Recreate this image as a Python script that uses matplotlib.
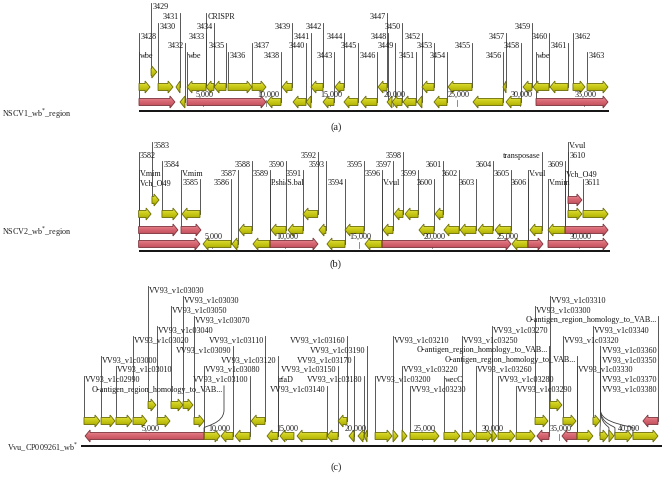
import matplotlib
matplotlib.use('Agg')
import matplotlib.pyplot as plt
import numpy as np
from matplotlib.patches import Polygon, PathPatch
from matplotlib.path import Path
from matplotlib.colors import LinearSegmentedColormap

plt.rcParams['font.family'] = ['Liberation Serif', 'DejaVu Serif']

# ------------------------------------------------------------------ data
# Panel (a) NSCV1 genes
a_start = [950, 0, 1500, 2910, 3780, 5280, 5910, 7010, 8900, 11260, 13540, 15430, 18820, 22280, 24330,
           28660, 30240, 31020, 32360, 34170, 35280,
           0, 3230, 3780, 10080, 12130, 13150, 14490, 16140, 17480, 19530, 19920, 20790, 21890, 23230,
           26300, 28900, 31260]
a_end = [1400, 870, 2680, 3230, 5280, 5900, 6850, 8900, 10000, 12050, 14490, 16140, 19530, 23230, 26220,
         28900, 30940, 32280, 33780, 35120, 36930,
         2830, 3620, 10000, 11180, 13150, 13540, 15350, 17240, 18740, 19920, 20710, 21810, 22280, 24250,
         28660, 30080, 36930]
a_strand = [1, 1, 1, -1, -1, -1, -1, 1, 1, -1, -1, -1, -1, -1, -1, -1, -1, -1, -1, 1, 1,
            1, -1, 1, -1, -1, -1, -1, -1, -1, -1, -1, -1, -1, -1, -1, -1, 1]
a_row = [0] + [1] * 20 + [2] * 17
a_kind = ['Y'] * 21 + ['R', 'Y', 'R'] + ['Y'] * 13 + ['R']

a_lab_text = ['3429', '3431', 'CRISPR', '3430', '3434', '3439', '3442', '3447', '3459', '3450',
              '3428', '3433', '3441', '3444', '3448', '3452', '3457', '3460', '3462',
              '3432', '3435', '3437', '3440', '3445', '3449', '3453', '3455', '3458', '3461',
              'wbe', 'wbe', '3436', '3438', '3443', '3446', '3451', '3454', '3456', 'wbe', '3463']
a_lab_pos = [950, 3230, 5280, 1500, 5900, 12050, 14490, 19530, 30940, 20710,
             0, 5280, 13540, 16140, 19600, 22280, 28900, 32280, 34170,
             3620, 6850, 8900, 13150, 17240, 20160, 23230, 26220, 30080, 33780,
             0, 3780, 7010, 11180, 15350, 18740, 21810, 24250, 28660, 31260, 35280]
a_lab_side = ['R', 'L', 'R', 'R', 'L', 'L', 'L', 'L', 'L', 'L',
              'R', 'L', 'L', 'L', 'L', 'L', 'L', 'L', 'R',
              'L', 'L', 'R', 'L', 'L', 'L', 'L', 'L', 'L', 'L',
              'R', 'R', 'R', 'L', 'L', 'L', 'L', 'L', 'L', 'R', 'R']
a_lab_level = [0, 1, 1, 2, 2, 2, 2, 1, 2, 2,
               3, 3, 3, 3, 3, 3, 3, 3, 3,
               4, 4, 4, 4, 4, 4, 4, 4, 4, 4,
               5, 5, 5, 5, 5, 5, 5, 5, 5, 5, 5]
a_lab_row = [0, 1, 1, 1, 1, 1, 1, 1, 1, 2,
             1, 1, 2, 1, 2, 2, 1, 1, 1,
             2, 1, 1, 2, 2, 2, 1, 1, 2, 1,
             2, 2, 1, 2, 2, 2, 2, 2, 2, 2, 1]

# Panel (b) NSCV2 genes
b_start = [910, 29250,
           0, 1590, 2960, 11200, 17400, 18150, 20190, 29250, 30270,
           0, 2890, 6840, 9020, 10180, 12290, 14060, 16650, 19100, 20800, 21900, 23120, 24280, 26660,
           27890, 29050,
           0, 4390, 6360, 7790, 8950, 12830, 15420, 16580, 25430, 26520, 27890]
b_end = [1390, 30200,
         850, 2680, 4180, 12200, 18010, 19040, 20740, 30200, 31980,
         2680, 4250, 7720, 10040, 11200, 12760, 15350, 17330, 20120, 21830, 22980, 24140, 25370, 27480,
         29050, 31980,
         4180, 6290, 6770, 8950, 12220, 14060, 16580, 25370, 26520, 27550, 31980]
b_strand = [1, 1,
            1, 1, -1, -1, -1, -1, -1, 1, 1,
            1, 1, -1, -1, -1, -1, -1, -1, -1, -1, -1, -1, -1, -1, -1, 1,
            1, -1, -1, -1, 1, -1, -1, 1, -1, 1, 1]
b_row = [0, 0] + [1] * 9 + [2] * 16 + [3] * 11
b_kind = ['Y', 'R'] + ['Y'] * 9 + ['R', 'R'] + ['Y'] * 13 + ['R'] + \
         ['R', 'Y', 'Y', 'Y', 'R', 'Y', 'Y', 'R', 'Y', 'R', 'R']

b_lab_text = ['3583', 'V.vul', '3582', '3592', '3598', 'transposase', '3610',
              '3584', '3588', '3590', '3593', '3595', '3597', '3601', '3604', '3609',
              'V.mim', 'V.mim', '3587', '3589', '3591', '3596', '3599', '3602', '3605', 'V.vul', 'Vch_O49',
              'Vch_O49', '3585', '3586', 'P.shi/S.bal', '3594', 'V.vul', '3600', '3603', '3606', 'V.mim',
              '3611']
b_lab_pos = [910, 29250, 0, 12200, 18010, 27480, 29250,
             1590, 7720, 10040, 12760, 15350, 17330, 20740, 24140, 29050,
             0, 2890, 6770, 8950, 11200, 16580, 19040, 21830, 25370, 26520, 29050,
             0, 4180, 6290, 8950, 14060, 16580, 20120, 22980, 26520, 27890, 30270]
b_lab_side = ['R', 'R', 'R', 'L', 'L', 'L', 'R',
              'R', 'L', 'L', 'L', 'L', 'L', 'L', 'L', 'L',
              'R', 'R', 'L', 'L', 'L', 'L', 'L', 'L', 'L', 'R', 'R',
              'R', 'L', 'L', 'R', 'L', 'R', 'L', 'L', 'L', 'R', 'R']
b_lab_level = [0, 0, 1, 1, 1, 1, 1,
               2, 2, 2, 2, 2, 2, 2, 2, 2,
               3, 3, 3, 3, 3, 3, 3, 3, 3, 3, 3,
               4, 4, 4, 4, 4, 4, 4, 4, 4, 4, 4]
b_lab_row = [0, 0, 1, 1, 1, 2, 1,
             1, 2, 2, 2, 2, 2, 1, 2, 2,
             2, 2, 3, 3, 2, 3, 1, 2, 2, 3, 2,
             3, 1, 3, 3, 3, 3, 2, 2, 3, 3, 1]

# Panel (c) Vvu CP009261 genes
c_start = [4930, 6610, 7490, 34350,
           240, 1490, 2580, 3830, 5590, 8290, 12480, 18840, 33260, 35300, 37500, 41160,
           320, 9030, 10270, 11300, 13640, 14590, 15840, 18030, 19640, 20300, 20740, 21550, 22860, 23520,
           24110, 26590, 27910, 28940, 30110, 30550, 31870, 33400, 35230, 36330, 38020, 38670, 39110, 40430]
c_end = [5510, 7490, 8220, 35230,
         1410, 2510, 3760, 4850, 6540, 9030, 13490, 19490, 34210, 36260, 38020, 42260,
         9030, 10200, 11150, 12390, 14440, 15610, 18030, 18840, 20010, 20740, 20960, 22790, 23230, 23890,
         26230, 27760, 28860, 30110, 30480, 31790, 33260, 34280, 36330, 37500, 38600, 39040, 40360, 42260]
c_strand = [1, 1, 1, 1,
            1, 1, 1, 1, 1, 1, -1, -1, 1, 1, 1, -1,
            -1, 1, -1, -1, -1, -1, -1, -1, -1, -1, -1, 1, 1, 1,
            1, 1, 1, 1, 1, 1, 1, -1, -1, 1, 1, 1, 1, 1]
c_row = [1] * 4 + [2] * 12 + [3] * 28
c_kind = ['Y'] * 4 + ['Y'] * 11 + ['R'] + ['R'] + ['Y'] * 20 + ['R', 'R'] + ['Y'] * 5

OANT = 'O-antigen_region_homology_to_VAB...'
c_lab_text = ['VV93_v1c03030', 'VV93_v1c03030', 'VV93_v1c03310', 'VV93_v1c03050', 'VV93_v1c03300',
              'VV93_v1c03070', OANT, 'VV93_v1c03040', 'VV93_v1c03270', 'VV93_v1c03340',
              'VV93_v1c03020', 'VV93_v1c03110', 'VV93_v1c03160', 'VV93_v1c03210', 'VV93_v1c03250',
              'VV93_v1c03320',
              'VV93_v1c03090', 'VV93_v1c03190', OANT, 'VV93_v1c03360',
              'VV93_v1c03000', 'VV93_v1c03120', 'VV93_v1c03170', OANT, 'VV93_v1c03350',
              'VV93_v1c03010', 'VV93_v1c03080', 'VV93_v1c03150', 'VV93_v1c03220', 'VV93_v1c03260',
              'VV93_v1c03330',
              'VV93_v1c02990', 'VV93_v1c03100', 'rfaD', 'VV93_v1c03180', 'VV93_v1c03200', 'wecC',
              'VV93_v1c03280', 'VV93_v1c03370',
              OANT, 'VV93_v1c03140', 'VV93_v1c03230', 'VV93_v1c03290', 'VV93_v1c03380']
c_lab_pos = [4930, 7490, 34350, 6610, 33260,
             8290, 42260, 5590, 30110, 37500,
             3830, 13490, 19490, 22860, 27910, 35300,
             11150, 20960, 34280, 38050,
             1490, 14440, 20010, 36330, 38050,
             2580, 9030, 18840, 23520, 28940, 36330,
             240, 12390, 14440, 20740, 21550, 26590, 30550, 38050,
             10490, 18030, 24110, 31870, 38050]
c_lab_target = [4930, 7490, 34350, 6610, 33260,
                8290, 42260, 5590, 30110, 37500,
                3830, 13490, 19490, 22860, 27910, 35300,
                11150, 20960, 34280, 38020,
                1490, 14440, 20010, 36330, 38670,
                2580, 9030, 18840, 23520, 28940, 36330,
                240, 12390, 14440, 20740, 21550, 26590, 30550, 39110,
                9030, 18030, 24110, 31870, 40430]
c_lab_side = ['R', 'R', 'R', 'R', 'R',
              'R', 'L', 'R', 'R', 'R',
              'R', 'L', 'L', 'R', 'R', 'R',
              'L', 'L', 'L', 'R',
              'R', 'L', 'L', 'L', 'R',
              'R', 'R', 'L', 'R', 'R', 'R',
              'R', 'L', 'R', 'L', 'R', 'R', 'R', 'R',
              'L', 'L', 'R', 'R', 'R']
c_lab_level = [0, 1, 1, 2, 2,
               3, 3, 4, 4, 4,
               5, 5, 5, 5, 5, 5,
               6, 6, 6, 6,
               7, 7, 7, 7, 7,
               8, 8, 8, 8, 8, 8,
               9, 9, 9, 9, 9, 9, 9, 9,
               10, 10, 10, 10, 10]
c_lab_row = [1, 1, 1, 1, 2,
             2, 2, 2, 3, 2,
             2, 2, 2, 3, 3, 2,
             3, 3, 3, 3,
             2, 3, 3, 3, 3,
             2, 3, 3, 3, 3, 3,
             2, 3, 3, 3, 3, 3, 3, 3,
             3, 3, 3, 3, 3]

a_ticks = [5000, 10000, 15000, 20000, 25000, 30000, 35000]
b_ticks = [5000, 10000, 15000, 20000, 25000, 30000]
c_ticks = [5000, 10000, 15000, 20000, 25000, 30000, 35000, 40000]

# ------------------------------------------------------------------ drawing
W, H = 672, 488
fig = plt.figure(figsize=(6.72, 4.88), dpi=100)
FS = 5.9

cmaps = {
    'Y': LinearSegmentedColormap.from_list('y', ['#eeee80', '#d2d222', '#bcbc0c', '#9a9a00']),
    'R': LinearSegmentedColormap.from_list('r', ['#f2a8ae', '#dc707a', '#cc5a66', '#a8404c']),
}
edges = {'Y': '#6a6a00', 'R': '#7a3038'}
grad = np.linspace(0, 1, 32).reshape(-1, 1)


def make_axis(x0, s):
    ax = fig.add_axes([0, 0, 1, 1])
    ax.set_xlim((0 - x0) / s * 1000, (W - x0) / s * 1000)
    ax.set_ylim(H, 0)
    ax.axis('off')
    ax.patch.set_alpha(0)
    return ax


def draw_panel(ax, bpp, starts, ends, strands, rows, kinds, row_y,
               texts, pos, sides, levels, lrows, level_y, targets,
               ticks, line_y, line_end, name, name_xy, tag, tag_xy):
    xl = ax.get_xlim()
    # axis line
    ax.plot([0, line_end], [line_y, line_y], color='#111111', lw=1.4, zorder=1,
            solid_capstyle='butt')
    bottom_y = row_y[-1]
    for t in ticks:
        ax.plot([t, t], [bottom_y - 2, bottom_y + 3.5], color='#777777', lw=0.6, zorder=1)
        ax.text(t + 2 * bpp, bottom_y - 7.5, f'{t:,}', ha='center', va='center',
                fontsize=FS, color='#222222', zorder=5)
    # arrows
    bh, hh, hlen = 3.5, 6.0, 5.0
    for s0, e0, st, r, k in zip(starts, ends, strands, rows, kinds):
        y = row_y[r]
        L = e0 - s0
        hl = min(hlen * bpp, L)
        if st > 0:
            tail, tip = s0, e0
            xb = tip - hl
        else:
            tail, tip = e0, s0
            xb = tip + hl
        pts = [(tail, y - bh), (xb, y - bh), (xb, y - hh), (tip, y), (xb, y + hh),
               (xb, y + bh), (tail, y + bh)]
        poly = Polygon(pts, closed=True, facecolor='none', edgecolor=edges[k], lw=0.6, zorder=4)
        clip = Polygon(pts, closed=True, facecolor='none', edgecolor='none',
                       transform=ax.transData)
        ax.add_patch(clip)
        im = ax.imshow(grad, extent=(min(s0, e0), max(s0, e0), y + hh, y - hh),
                       cmap=cmaps[k], aspect='auto', origin='upper', zorder=3,
                       interpolation='bilinear')
        im.set_clip_path(clip)
        ax.add_patch(poly)
    # labels + connector lines
    for txt, p, sd, lv, lr, tg in zip(texts, pos, sides, levels, lrows, targets):
        ly = level_y[lv]
        gy = row_y[lr]
        top = ly - 4.0
        if abs(tg - p) < 1e-6:
            ax.plot([p, p], [top, gy], color='#3c3c3c', lw=0.6, zorder=2)
        else:
            ymid = gy - 12
            verts = [(p, top), (p, ymid - 14), (p, ymid), (tg, ymid + 2), (tg, ymid + 4), (tg, gy)]
            codes = [Path.MOVETO, Path.LINETO, Path.CURVE4, Path.CURVE4, Path.CURVE4, Path.LINETO]
            pp = PathPatch(Path(verts, codes), facecolor='none', edgecolor='#3c3c3c',
                           lw=0.6, zorder=2)
            ax.add_patch(pp)
        if sd == 'R':
            ax.text(p + 1.2 * bpp, ly, txt, ha='left', va='center', fontsize=FS,
                    color='#1a1a1a', zorder=6)
        else:
            ax.text(p - 1.2 * bpp, ly, txt, ha='right', va='center', fontsize=FS,
                    color='#1a1a1a', zorder=6)
    ax.set_xlim(xl)
    ax.set_ylim(H, 0)
    # track name & panel tag
    fig.text(name_xy[0] / W, 1 - name_xy[1] / H, name, ha='left', va='center',
             fontsize=FS, color='#222222')
    fig.text(tag_xy[0] / W, 1 - tag_xy[1] / H, tag, ha='center', va='center',
             fontsize=7.5, color='#222222')


# panel a
axa = make_axis(139.0, 12.7)
draw_panel(axa, 1000 / 12.7, a_start, a_end, a_strand, a_row, a_kind, [72, 87, 102],
           a_lab_text, a_lab_pos, a_lab_side, a_lab_level, a_lab_row,
           [7, 17, 27, 37, 46.5, 56], a_lab_pos,
           a_ticks, 111, 37000, 'NSCV1_wb$^{*}$_region', (2, 114), '(a)', (336, 127))

# panel b
axb = make_axis(138.6, 14.68)
draw_panel(axb, 1000 / 14.68, b_start, b_end, b_strand, b_row, b_kind, [200, 214, 230, 244],
           b_lab_text, b_lab_pos, b_lab_side, b_lab_level, b_lab_row,
           [146, 156, 165, 174, 183], b_lab_pos,
           b_ticks, 251, 32100, 'NSCV2_wb$^{*}$_region', (2, 232), '(b)', (336, 264))

# panel c
axc = make_axis(80.7, 13.66)
draw_panel(axc, 1000 / 13.66, c_start, c_end, c_strand, c_row, c_kind, [390, 405, 421, 436],
           c_lab_text, c_lab_pos, c_lab_side, c_lab_level, c_lab_row,
           [290, 300, 310, 320, 330, 340, 350, 360, 369.5, 379.5, 389.5], c_lab_target,
           c_ticks, 446, 42550, 'Vvu_CP009261_wb$^{*}$', (7, 447), '(c)', (336, 467))

fig.savefig('out.png', dpi=100)
